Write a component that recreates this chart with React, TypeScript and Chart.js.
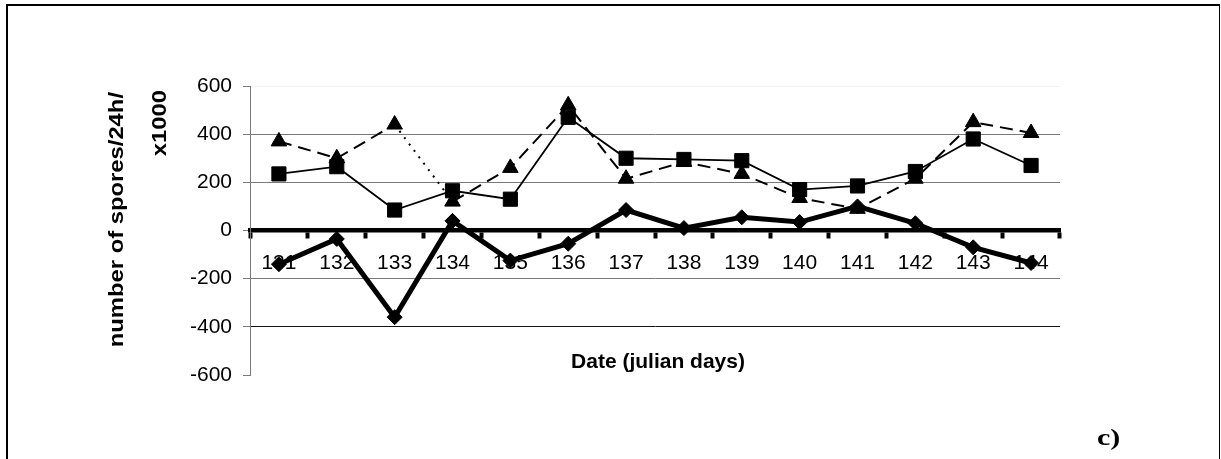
import React, { useEffect, useRef } from "react";
import { Chart, registerables } from "chart.js";

Chart.register(...registerables);

const days = ["131", "132", "133", "134", "135", "136", "137", "138", "139", "140", "141", "142", "143", "144"];
const diamondSeries = [-140, -35, -360, 40, -125, -55, 85, 10, 55, 35, 100, 30, -70, -135];
const squareSeries = [235, 265, 85, 165, 130, 470, 300, 295, 290, 170, 185, 245, 380, 270];
const triangleSeries = [370, 300, 440, 120, 260, 520, 215, 285, 235, 135, 90, 215, 450, 405];
const yTitleLines = ["number of spores/24h/", "x1000"];
const xTitle = "Date (julian days)";
const panelLabel = "c)";

const overlayPlugin = {
  id: "overlay",
  beforeDraw(chart: any) {
    const ctx = chart.ctx;
    ctx.save();
    ctx.fillStyle = "#000";
    ctx.fillRect(6, 4, 2, 455);
    ctx.fillRect(6, 4, 1214, 2);
    ctx.fillRect(1219, 4, 1, 455);
    ctx.restore();
  },
  afterDraw(chart: any) {
    const ctx = chart.ctx;
    ctx.save();
    ctx.fillStyle = "#000";
    ctx.font = 'bold 20px "Liberation Sans", Arial, sans-serif';
    ctx.textAlign = "right";
    ctx.textBaseline = "alphabetic";
    const pos = [
      [123, 92],
      [166, 90],
    ];
    yTitleLines.forEach((t, i) => {
      ctx.save();
      ctx.translate(pos[i][0], pos[i][1]);
      ctx.rotate(-Math.PI / 2);
      ctx.scale(1.19, 1);
      ctx.fillText(t, 0, 0);
      ctx.restore();
    });
    ctx.font = 'bold 21px "Liberation Sans", Arial, sans-serif';
    ctx.textAlign = "center";
    ctx.fillText(xTitle, 658, 368);
    ctx.save();
    ctx.translate(1097, 445);
    ctx.scale(1.25, 1);
    ctx.font = 'bold 24px "Liberation Serif", "Times New Roman", serif';
    ctx.textAlign = "left";
    ctx.fillText(panelLabel, 0, 0);
    ctx.restore();
    ctx.restore();
  },
};

export default function App() {
  const ref = useRef<HTMLCanvasElement | null>(null);
  useEffect(() => {
    if (!ref.current) return;
    const chart = new Chart(ref.current, {
      type: "line",
      data: {
        labels: days,
        datasets: [
          {
            label: "triangles",
            data: triangleSeries,
            order: 0,
            borderColor: "#000",
            backgroundColor: "#000",
            borderWidth: 2,
            borderDash: [13, 7],
            segment: {
              borderDash: (c: any) => (c.p0DataIndex === 2 ? [2, 6] : undefined),
            },
            pointStyle: "triangle",
            pointRadius: 9,
            pointBorderWidth: 1,
            tension: 0,
          },
          {
            label: "squares",
            data: squareSeries,
            order: 1,
            borderColor: "#000",
            backgroundColor: "#000",
            borderWidth: 1.8,
            pointStyle: "rect",
            pointRadius: 10,
            pointBorderWidth: 1,
            tension: 0,
          },
          {
            label: "diamonds",
            data: diamondSeries,
            order: 2,
            borderColor: "#000",
            backgroundColor: "#000",
            borderWidth: 5,
            pointStyle: "rectRot",
            pointRadius: 7.5,
            pointBorderWidth: 1,
            tension: 0,
          },
        ],
      },
      options: {
        animation: false,
        responsive: false,
        devicePixelRatio: 1,
        layout: { padding: { left: 190, right: 161, top: 86, bottom: 84 } },
        plugins: { legend: { display: false }, tooltip: { enabled: false }, title: { display: false } },
        scales: {
          x: {
            type: "category",
            position: { y: 0 } as any,
            offset: true,
            grid: {
              offset: true,
              drawOnChartArea: false,
              drawTicks: true,
              tickLength: 6,
              tickWidth: 4,
              tickColor: "#000",
            },
            border: { display: true, color: "#000", width: 4.5 },
            ticks: {
              color: "#000",
              padding: 14,
              maxRotation: 0,
              autoSkip: false,
              font: { family: '"Liberation Sans", Arial, sans-serif', size: 21 },
            },
          },
          y: {
            type: "linear",
            position: "left",
            min: -600,
            max: 600,
            afterFit: (s: any) => {
              s.width = 60;
            },
            grid: {
              color: (c: any) => {
                const v = c.tick ? c.tick.value : 0;
                if (v === 600) return "#f2f2f2";
                if (v === -600) return "rgba(0,0,0,0)";
                if (v === -400) return "#111111";
                return "#7a7a7a";
              },
              lineWidth: 1,
              drawTicks: true,
              tickLength: 7,
              tickColor: "#7a7a7a",
            },
            border: { display: true, color: "#7a7a7a", width: 1 },
            ticks: {
              stepSize: 200,
              color: "#000",
              padding: 11,
              font: { family: '"Liberation Sans", Arial, sans-serif', size: 21 },
            },
          },
        },
      },
      plugins: [overlayPlugin],
    });
    return () => chart.destroy();
  }, []);
  return (
    <div style={{ position: "fixed", left: 0, top: 0, width: 1221, height: 459, background: "#fff" }}>
      <canvas ref={ref} width={1221} height={459} style={{ width: 1221, height: 459, display: "block" }} />
    </div>
  );
}
